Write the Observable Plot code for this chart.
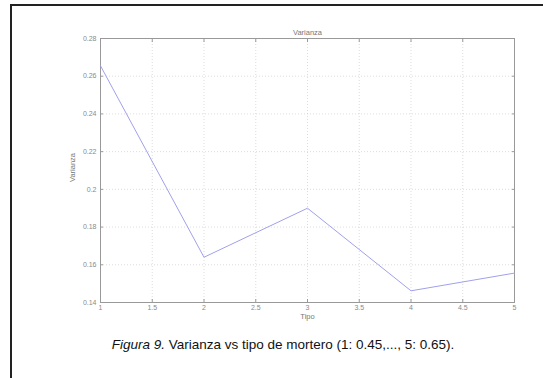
<!DOCTYPE html>
<html>
<head>
<meta charset="utf-8">
<script src="https://cdn.jsdelivr.net/npm/d3@7"></script>
<script src="https://cdn.jsdelivr.net/npm/@observablehq/plot@0.6"></script>
<style>
  html, body { margin: 0; padding: 0; background: #fff; overflow: hidden; }
  #wrap { position: relative; width: 543px; height: 378px; }
  #frame { position: absolute; left: 10px; top: 4px; width: 600px; height: 420px; border: 2px solid #222; box-sizing: border-box; }
  #chart { position: absolute; left: 0; top: 0; }
  #caption { position: absolute; left: 0; width: 566px; top: 337px; text-align: center;
    font-family: "Liberation Sans", Arial, sans-serif; font-size: 13.5px; color: #111; }
</style>
</head>
<body>
<div id="wrap">
  <div id="frame"></div>
  <div id="chart"></div>
  <div id="caption"><i>Figura 9.</i> Varianza vs tipo de mortero (1: 0.45,..., 5: 0.65).</div>
</div>
<script>
const tipo = [1, 2, 3, 4, 5];
const varianza = [0.2655, 0.164, 0.19, 0.1462, 0.1556];
const xTicks = [1, 1.5, 2, 2.5, 3, 3.5, 4, 4.5, 5];
const yTicks = [0.14, 0.16, 0.18, 0.2, 0.22, 0.24, 0.26, 0.28];
const title = "Varianza";
const xLabel = "Tipo";
const yLabel = "Varianza";

const data = tipo.map((t, i) => ({tipo: t, varianza: varianza[i]}));
const fmt = d3.format("~g");
const gray = "#8a8a8a";

const chart = Plot.plot({
  width: 543,
  height: 330,
  marginLeft: 100,
  marginRight: 29,
  marginTop: 38,
  marginBottom: 28,
  style: {fontFamily: "Liberation Sans, Arial, sans-serif", fontSize: "7px", color: gray, background: "transparent"},
  x: {domain: [1, 5]},
  y: {domain: [0.14, 0.28]},
  marks: [
    Plot.gridX(xTicks, {stroke: "#bbb", strokeOpacity: 0.5, strokeDasharray: "1,2"}),
    Plot.gridY(yTicks, {stroke: "#bbb", strokeOpacity: 0.5, strokeDasharray: "1,2"}),
    Plot.frame({stroke: "#999"}),
    Plot.axisX(xTicks, {anchor: "bottom", tickSize: -3, tickPadding: 6, tickFormat: fmt, stroke: "#999", fill: gray, label: null}),
    Plot.axisX(xTicks, {anchor: "top", tickSize: -3, tickFormat: () => "", stroke: "#999", label: null}),
    Plot.axisY(yTicks, {anchor: "left", tickSize: -3, tickPadding: 7, tickFormat: fmt, stroke: "#999", fill: gray, label: null}),
    Plot.axisY(yTicks, {anchor: "right", tickSize: -3, tickFormat: () => "", stroke: "#999", label: null}),
    Plot.line(data, {x: "tipo", y: "varianza", stroke: "#a0a0ec", strokeWidth: 1}),
    Plot.text([title], {frameAnchor: "top", dy: -9, fill: "#777", fontSize: 7.5}),
    Plot.text([xLabel], {frameAnchor: "bottom", dy: 16, fill: "#777", fontSize: 7.5}),
    Plot.text([yLabel], {frameAnchor: "left", textAnchor: "middle", dx: -28, dy: -3, rotate: -90, fill: "#777", fontSize: 7.5})
  ]
});
document.getElementById("chart").appendChild(chart);
</script>
</body>
</html>
